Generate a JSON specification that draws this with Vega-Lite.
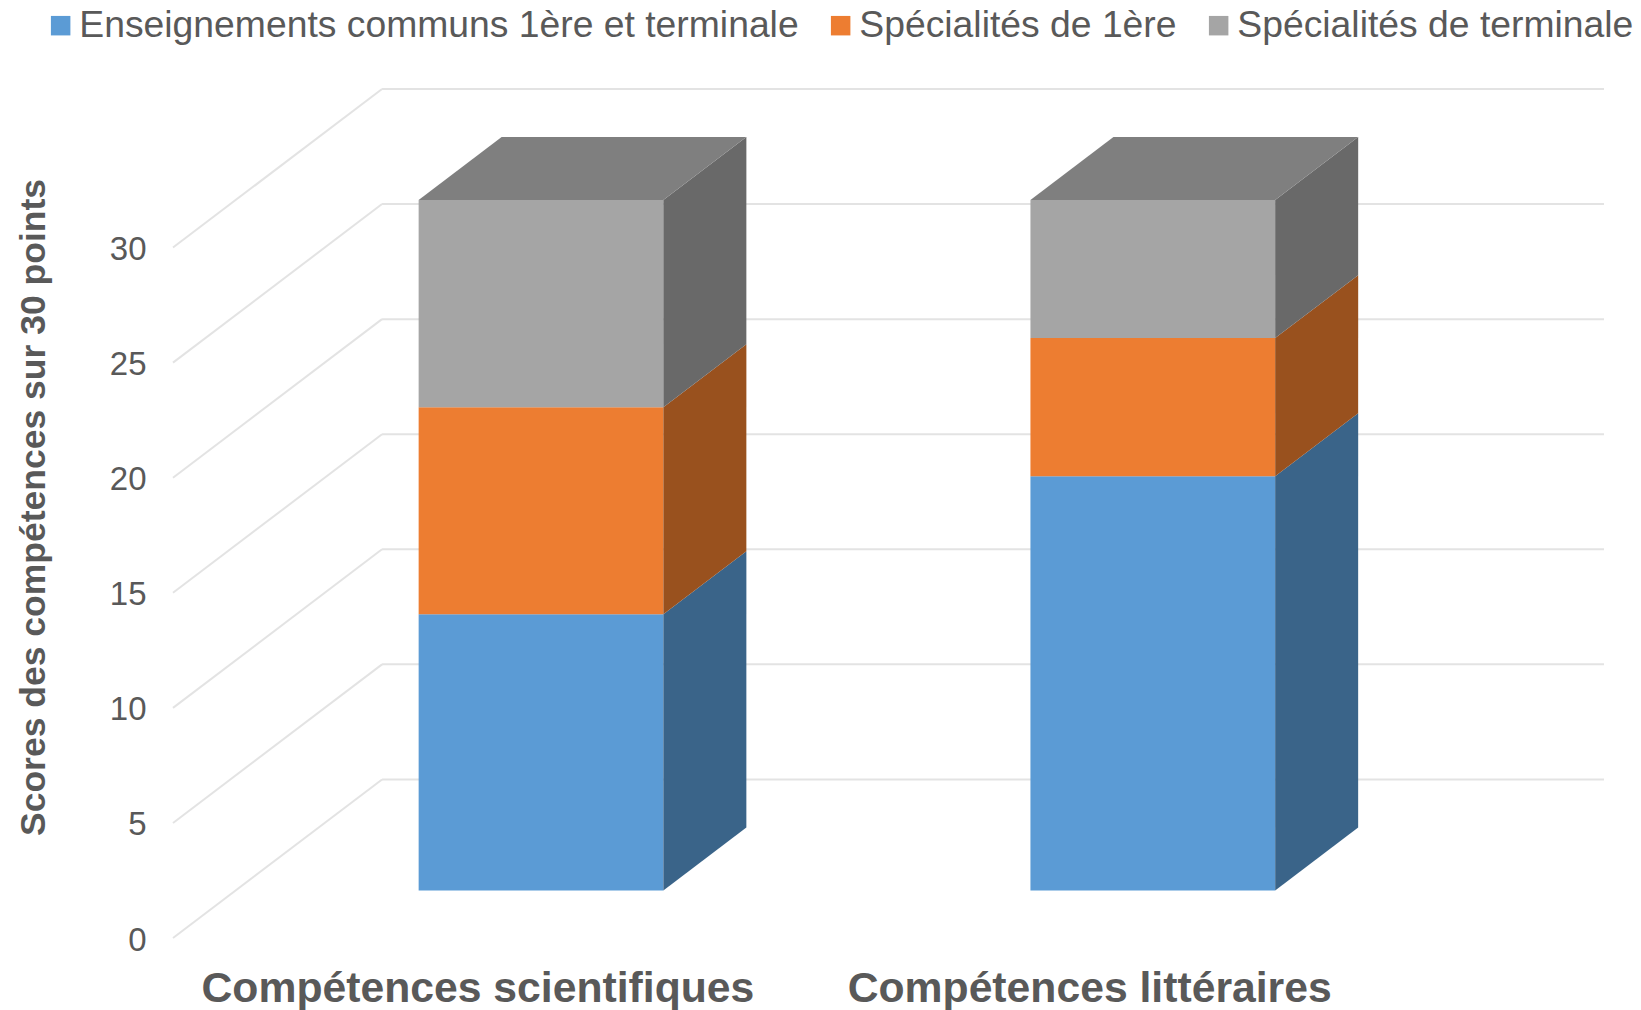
{
"$schema":"https://vega.github.io/schema/vega-lite/v6.json",
"width":1431,"height":849,
"autosize":{"type":"none"},
"padding":{"left":173,"top":89,"right":37,"bottom":72},
"background":"white",
"config":{"view":{"stroke":null},"font":"Liberation Sans",
 "axisX":{"grid":false,"domain":false,"ticks":false,"labelFontSize":42.7,"labelFontWeight":"bold","labelColor":"#595959","labelPadding":29.5,"labelOffset":-1.5,"labelBaseline":"top","labelOverlap":false,"labelBound":false,"labelFlush":false,"labelLimit":1000},
 "axisY":{"grid":false,"domain":false,"ticks":false,"labelFontSize":33,"labelColor":"#595959","labelPadding":27,"labelOffset":2,"titleFontSize":35.5,"titleFontWeight":"bold","titleColor":"#595959","titleX":-122,"titleY":418,"titleAnchor":"middle","titleLimit":1000}
},
"datasets":{
"scores":[
{"competence":"Compétences scientifiques","rang":0,"serie":"Enseignements communs 1ère et terminale","score":12},
{"competence":"Compétences scientifiques","rang":0,"serie":"Spécialités de 1ère","score":9},
{"competence":"Compétences scientifiques","rang":0,"serie":"Spécialités de terminale","score":9},
{"competence":"Compétences littéraires","rang":1,"serie":"Enseignements communs 1ère et terminale","score":18},
{"competence":"Compétences littéraires","rang":1,"serie":"Spécialités de 1ère","score":6},
{"competence":"Compétences littéraires","rang":1,"serie":"Spécialités de terminale","score":6}
],
"graduations":[{"v":0},{"v":5},{"v":10},{"v":15},{"v":20},{"v":25},{"v":30}]
},
"layer":[
{"data":{"name":"graduations"},
 "transform":[{"calculate":"datum.v+6.89","as":"vb"},{"calculate":"0","as":"x0"},{"calculate":"0.3417","as":"xb"}],
 "mark":{"type":"rule","color":"#E3E3E3","strokeWidth":2},
 "encoding":{
  "x":{"field":"x0","type":"quantitative","scale":{"domain":[0,2.339],"nice":false,"zero":false},
   "axis":{"values":[0.5,1.5],"labelExpr":"datum.value==0.5?'Compétences scientifiques':'Compétences littéraires'","title":null}},
  "x2":{"field":"xb"},
  "y":{"field":"v","type":"quantitative","scale":{"domain":[0,36.89],"nice":false,"zero":false},
   "axis":{"values":[0,5,10,15,20,25,30],"title":"Scores des compétences sur 30 points"}},
  "y2":{"field":"vb"}
 }},
{"data":{"name":"graduations"},
 "transform":[{"calculate":"datum.v+6.89","as":"vb"},{"calculate":"0.3417","as":"xb"},{"calculate":"2.339","as":"xf"}],
 "mark":{"type":"rule","color":"#E3E3E3","strokeWidth":2},
 "encoding":{
  "x":{"field":"xb","type":"quantitative","axis":{"values":[0.5,1.5],"labelExpr":"datum.value==0.5?'Compétences scientifiques':'Compétences littéraires'","title":null}},
  "x2":{"field":"xf"},
  "y":{"field":"vb","type":"quantitative","axis":{"values":[0,5,10,15,20,25,30],"title":"Scores des compétences sur 30 points"}}
 }},
{"data":{"name":"scores"},
 "transform":[
  {"stack":"score","groupby":["competence"],"sort":[{"field":"serie","order":"ascending"}],"as":["debut","fin"]},
  {"calculate":"datum.rang+0.299+0.3*0.3417","as":"x1"},
  {"calculate":"datum.rang+0.699+0.3*0.3417","as":"x2b"},
  {"calculate":"datum.debut+0.3*6.89","as":"y1"},
  {"calculate":"datum.fin+0.3*6.89","as":"y2b"}
 ],
 "mark":{"type":"rect"},
 "encoding":{
  "x":{"field":"x1","type":"quantitative","axis":{"values":[0.5,1.5],"labelExpr":"datum.value==0.5?'Compétences scientifiques':'Compétences littéraires'","title":null}},
  "x2":{"field":"x2b"},
  "y":{"field":"y1","type":"quantitative","axis":{"values":[0,5,10,15,20,25,30],"title":"Scores des compétences sur 30 points"}},
  "y2":{"field":"y2b"},
  "color":{"field":"serie","type":"nominal",
   "scale":{"domain":["Enseignements communs 1ère et terminale","Spécialités de 1ère","Spécialités de terminale"],"range":["#5B9BD5","#ED7D31","#A5A5A5"]},
   "legend":{"orient":"none","legendX":-131,"legendY":-82,"direction":"horizontal","columns":3,"title":null,"symbolType":"square","symbolSize":380,"symbolStrokeWidth":0,"labelFontSize":37.3,"labelColor":"#595959","labelOffset":0,"columnPadding":23,"labelLimit":800}}
 }},
{"data":{"name":"scores"},
 "transform":[
  {"stack":"score","groupby":["competence"],"sort":[{"field":"serie","order":"ascending"}],"as":["debut","fin"]},
  {"calculate":"[0.3,0.697]","as":"d"},
  {"flatten":["d"]},
  {"calculate":"datum.rang+0.699+datum.d*0.3417","as":"xs"},
  {"calculate":"datum.debut+datum.d*6.89","as":"ys1"},
  {"calculate":"datum.fin+datum.d*6.89","as":"ys2"}
 ],
 "mark":{"type":"area","orient":"vertical","interpolate":"linear"},
 "encoding":{
  "x":{"field":"xs","type":"quantitative","axis":{"values":[0.5,1.5],"labelExpr":"datum.value==0.5?'Compétences scientifiques':'Compétences littéraires'","title":null}},
  "y":{"field":"ys1","type":"quantitative","axis":{"values":[0,5,10,15,20,25,30],"title":"Scores des compétences sur 30 points"}},
  "y2":{"field":"ys2"},
  "detail":{"field":"competence"},
  "color":{"field":"serie","type":"nominal","legend":null,
   "scale":{"domain":["Enseignements communs 1ère et terminale","Spécialités de 1ère","Spécialités de terminale"],"range":["#3A6489","#99511E","#696969"]}}
 }},
{"data":{"name":"scores"},
 "transform":[
  {"filter":"datum.serie=='Spécialités de terminale'"},
  {"calculate":"[0.3,0.697]","as":"d"},
  {"flatten":["d"]},
  {"calculate":"datum.rang+0.299+datum.d*0.3417","as":"xt1"},
  {"calculate":"datum.rang+0.699+datum.d*0.3417","as":"xt2"},
  {"calculate":"30+datum.d*6.89","as":"yt"}
 ],
 "mark":{"type":"area","orient":"horizontal","color":"#7F7F7F","interpolate":"linear"},
 "encoding":{
  "x":{"field":"xt1","type":"quantitative","axis":{"values":[0.5,1.5],"labelExpr":"datum.value==0.5?'Compétences scientifiques':'Compétences littéraires'","title":null}},
  "x2":{"field":"xt2"},
  "y":{"field":"yt","type":"quantitative","axis":{"values":[0,5,10,15,20,25,30],"title":"Scores des compétences sur 30 points"}},
  "detail":{"field":"competence"}
 }}
],
"resolve":{"scale":{"color":"independent"}}
}
